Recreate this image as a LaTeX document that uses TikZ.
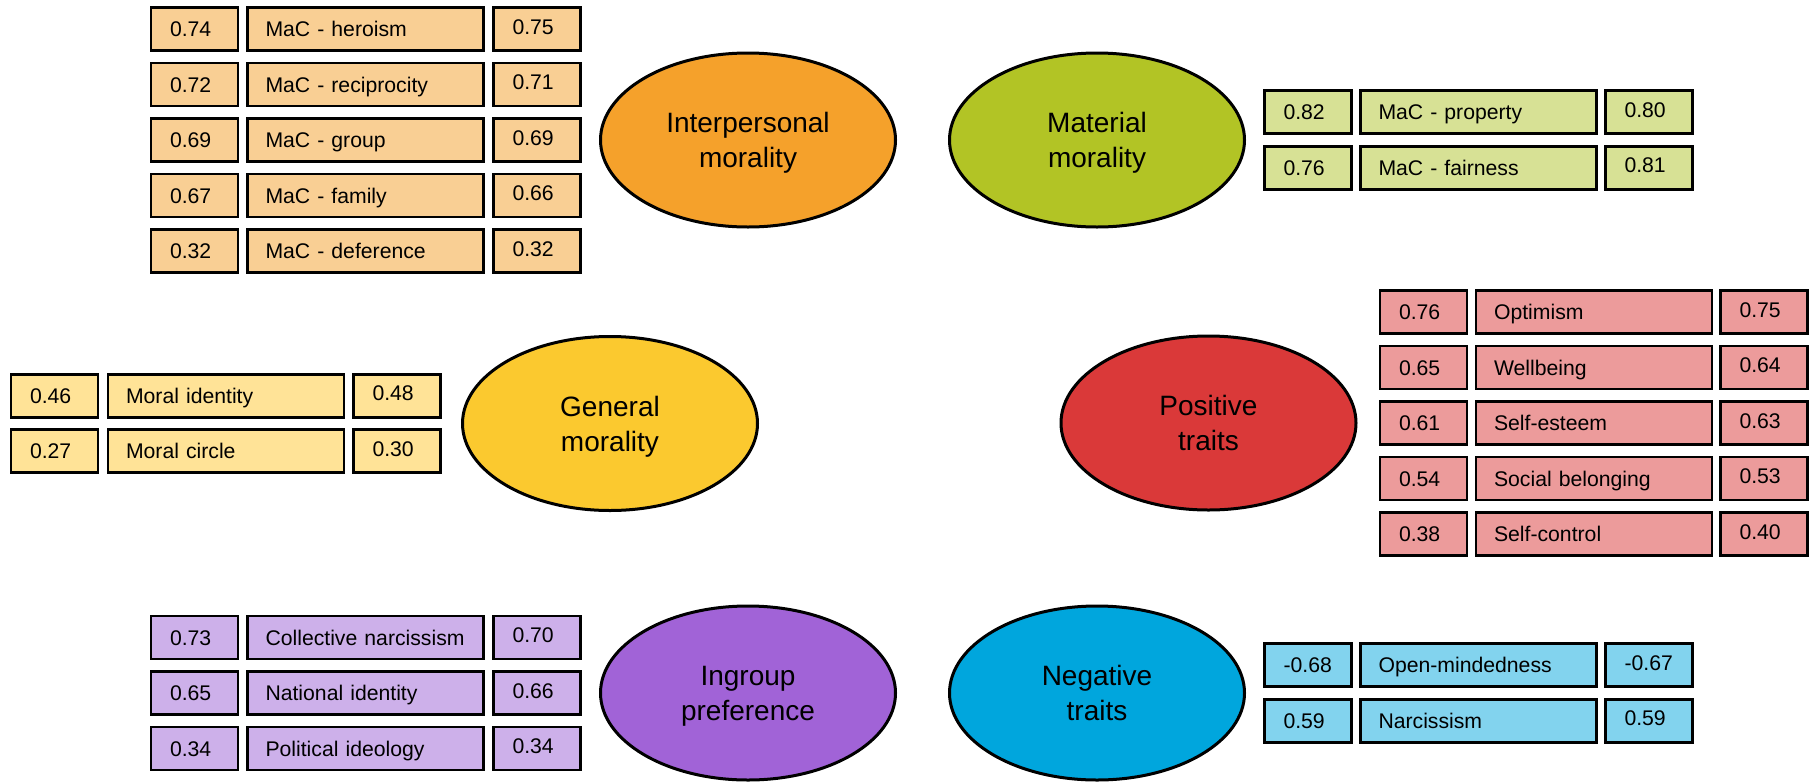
\documentclass[tikz,border=0pt]{standalone}
\usepackage{fontspec}
\setmainfont{Liberation Sans}
\usetikzlibrary{shapes.geometric}
\definecolor{ipE}{HTML}{F5A12B}\definecolor{ipL}{HTML}{F9CF94}
\definecolor{mmE}{HTML}{B2C425}\definecolor{mmL}{HTML}{D7E195}
\definecolor{gmE}{HTML}{FBC92F}\definecolor{gmL}{HTML}{FFE397}
\definecolor{ptE}{HTML}{DA3939}\definecolor{ptL}{HTML}{EC9B9B}
\definecolor{igE}{HTML}{A163D7}\definecolor{igL}{HTML}{CDB0EA}
\definecolor{ntE}{HTML}{00A6DD}\definecolor{ntL}{HTML}{82D3EE}
\tikzset{
  latent/.style={ellipse, draw=black, line width=1.5pt, minimum width=147.5pt,
    minimum height=87pt, inner sep=0pt, align=center, text depth=0pt,
    font=\fontsize{14}{17.5}\selectfont},
  cellbox/.style={draw=black, line width=1.3pt, minimum height=21.5pt,
    inner xsep=9.5pt, inner ysep=0pt, align=left, text height=7.6pt, text depth=0pt,
    font=\fontsize{10.6}{12.7}\selectfont},
  numcell/.style={cellbox, text width=24.5pt},
  rnumcell/.style={numcell, text height=5.2pt},
  labcell/.style={cellbox, inner xsep=9pt, text width=100pt},
}
\begin{document}
\begin{tikzpicture}[x=0.5pt,y=-0.5pt]
\useasboundingbox (0,0) rectangle (1810,782);
% latent variables
\node[latent, fill=ipE] (ip) at (748,140) {Interpersonal\\morality};
\node[latent, fill=mmE] (mm) at (1097,140) {Material\\morality};
\node[latent, fill=gmE] (gm) at (610,423.5) {General\\morality};
\node[latent, fill=ptE] (pt) at (1208.5,423) {Positive\\traits};
\node[latent, fill=igE] (ig) at (748,693) {Ingroup\\preference};
\node[latent, fill=ntE] (nt) at (1097,693) {Negative\\traits};
% interpersonal morality indicators
\foreach \y/\a/\b/\c [count=\i] in {29/0.74/MaC - heroism/0.75, 84.5/0.72/MaC - reciprocity/0.71,
  140/0.69/MaC - group/0.69, 195.5/0.67/MaC - family/0.66, 251/0.32/MaC - deference/0.32}{
  \node[numcell, fill=ipL] (ipA\i) at (194.5,\y) {\a};
  \node[labcell, fill=ipL] (ipB\i) at (365.5,\y) {\mbox{\b}};
  \node[rnumcell, fill=ipL] (ipC\i) at (537,\y) {\c};
}
% material morality indicators
\foreach \y/\a/\b/\c [count=\i] in {112.25/0.82/MaC - property/0.80, 167.75/0.76/MaC - fairness/0.81}{
  \node[numcell, fill=mmL] (mmA\i) at (1308,\y) {\a};
  \node[labcell, fill=mmL] (mmB\i) at (1478.5,\y) {\mbox{\b}};
  \node[rnumcell, fill=mmL] (mmC\i) at (1649,\y) {\c};
}
% general morality indicators
\foreach \y/\a/\b/\c [count=\i] in {395.75/0.46/Moral identity/0.48, 451.25/0.27/Moral circle/0.30}{
  \node[numcell, fill=gmL] (gmA\i) at (54.5,\y) {\a};
  \node[labcell, fill=gmL] (gmB\i) at (226,\y) {\mbox{\b}};
  \node[rnumcell, fill=gmL] (gmC\i) at (397,\y) {\c};
}
% positive traits indicators
\foreach \y/\a/\b/\c [count=\i] in {312/0.76/Optimism/0.75, 367.5/0.65/Wellbeing/0.64,
  423/0.61/Self-esteem/0.63, 478.5/0.54/Social belonging/0.53, 534/0.38/Self-control/0.40}{
  \node[numcell, fill=ptL] (ptA\i) at (1423.5,\y) {\a};
  \node[labcell, fill=ptL] (ptB\i) at (1594,\y) {\mbox{\b}};
  \node[rnumcell, fill=ptL] (ptC\i) at (1764,\y) {\c};
}
% ingroup preference indicators
\foreach \y/\a/\b/\c [count=\i] in {637.5/0.73/Collective narcissism/0.70, 693/0.65/National identity/0.66,
  748.5/0.34/Political ideology/0.34}{
  \node[numcell, fill=igL] (igA\i) at (194.5,\y) {\a};
  \node[labcell, fill=igL] (igB\i) at (365.5,\y) {\mbox{\b}};
  \node[rnumcell, fill=igL] (igC\i) at (537,\y) {\c};
}
% negative traits indicators
\foreach \y/\a/\b/\c [count=\i] in {665.25/-0.68/Open-mindedness/-0.67, 720.75/0.59/Narcissism/0.59}{
  \node[numcell, fill=ntL] (ntA\i) at (1308,\y) {\a};
  \node[labcell, fill=ntL] (ntB\i) at (1478.5,\y) {\mbox{\b}};
  \node[rnumcell, fill=ntL] (ntC\i) at (1649,\y) {\c};
}
\end{tikzpicture}
\end{document}
